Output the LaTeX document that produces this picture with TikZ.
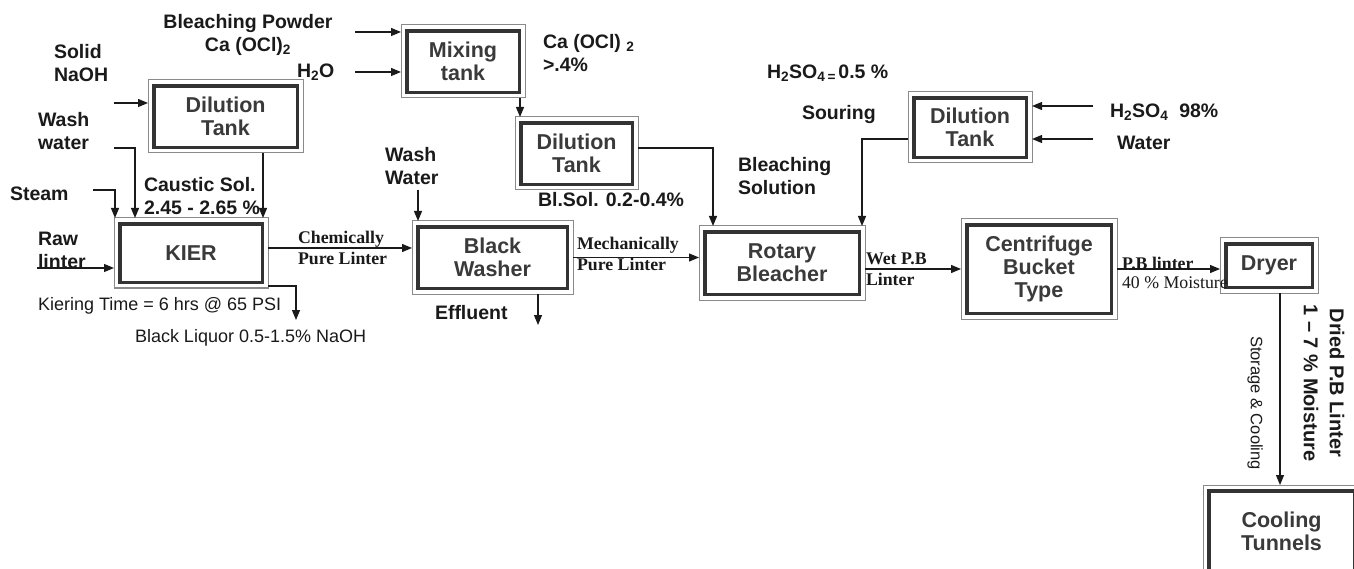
\documentclass[tikz,border=0pt]{standalone}
\usepackage{fontspec}
\setmainfont{Liberation Sans}
\newfontfamily\tnr{Liberation Serif}
\usetikzlibrary{arrows.meta}
\definecolor{boxline}{HTML}{333333}
\definecolor{boxgray}{HTML}{8A8A8A}
\definecolor{boxtext}{HTML}{3A3A3A}
\definecolor{ink}{HTML}{1A1A1A}
\tikzset{
  pbox/.style={draw=boxline, line width=3.2pt, fill=white, outer sep=5.5pt, inner sep=0pt,
    align=center, text=boxtext, font=\fontsize{21.5}{23}\selectfont\bfseries},
  lbl/.style={inner sep=0pt, outer sep=0pt, anchor=north west, align=left, text=ink,
    font=\fontsize{19.5}{23}\selectfont\bfseries},
  lblc/.style={lbl, anchor=north, align=center},
  srf/.style={inner sep=0pt, outer sep=0pt, anchor=north west, align=left, text=ink,
    font=\fontsize{17.8}{21}\selectfont\tnr\bfseries},
  reg/.style={inner sep=0pt, outer sep=0pt, anchor=north west, align=left, text=ink,
    font=\fontsize{18}{21}\selectfont},
  arr/.style={draw=ink, line width=1.2pt, -{Triangle[length=10pt,width=8pt]}},
  outerframe/.style={draw=boxgray, line width=1pt},
  innerframe/.style={draw=boxline, line width=0.9pt}
}
\begin{document}
\begin{tikzpicture}[x=1pt,y=-1pt]
\useasboundingbox (0,0) rectangle (1354,569);
\clip (0,0) rectangle (1354,569);
\fill[white] (0,0) rectangle (1354,569);

% process boxes
\node[pbox, minimum width=144pt, minimum height=62pt] (dil1) at (225.5,116.5) {Dilution\\Tank};
\node[pbox, minimum width=143pt, minimum height=59pt] (kier) at (191,253) {KIER};
\node[pbox, minimum width=113pt, minimum height=62pt] (mix) at (463,61.5) {Mixing\\tank};
\node[pbox, minimum width=112pt, minimum height=62pt] (dil2) at (576.5,153.5) {Dilution\\Tank};
\node[pbox, minimum width=150pt, minimum height=62pt] (washer) at (492.5,257.5) {Black\\Washer};
\node[pbox, minimum width=155pt, minimum height=63pt] (rotary) at (782,263) {Rotary\\Bleacher};
\node[pbox, minimum width=145pt, minimum height=89pt] (centri) at (1039,269) {Centrifuge\\Bucket\\Type};
\node[pbox, minimum width=113pt, minimum height=60pt] (dil3) at (970,127.5) {Dilution\\Tank};
\node[pbox, minimum width=87pt, minimum height=44pt] (dryer) at (1269,265.5) {Dryer};
\node[pbox, minimum width=146pt, minimum height=82pt] (cool) at (1281.5,531.5) {Cooling\\Tunnels};

\foreach \n in {dil1,kier,mix,dil2,washer,rotary,centri,dil3,dryer,cool}{
  \draw[outerframe] (\n.north west) rectangle (\n.south east);
  \draw[innerframe] ([shift={(7pt,-7pt)}]\n.north west) rectangle ([shift={(-7pt,7pt)}]\n.south east);
}

% labels
\node[lblc] (bp) at (248,14) {Bleaching Powder\\Ca (OCl)\textsubscript{2}};
\node[lbl] (h2o) at (297,64) {H\textsubscript{2}O};
\node[lbl] (solid) at (54,44) {Solid\\NaOH};
\node[lbl] (wash1) at (38,112) {Wash\\water};
\node[lbl] (caustic) at (144,177) {Caustic Sol.\\2.45 - 2.65 \%};
\node[lbl] (steam) at (10,187) {Steam};
\node[lbl] (rawl) at (38,232) {Raw\\linter};
\node[reg] (kiering) at (38,297) {Kiering Time = 6 hrs @ 65 PSI};
\node[reg] (bliq) at (135,329) {Black Liquor 0.5-1.5\% NaOH};
\node[srf] (chem) at (298,231) {Chemically\\Pure Linter};
\node[lbl] (wash2) at (385,147) {Wash\\Water};
\node[lbl] (caocl) at (543,34) {Ca (OCl) \textsubscript{2}\\>.4\%};
\node[lbl] (blsol) at (538,192) {Bl.Sol. 0.2-0.4\%};
\node[lbl] (effl) at (435,305) {Effluent};
\node[srf] (mech) at (577,237) {Mechanically\\Pure Linter};
\node[lbl] (h2so4a) at (767,65) {H\textsubscript{2}SO\textsubscript{4}\textsubscript{\,=\,}0.5 \%};
\node[lbl] (souring) at (802,105) {Souring};
\node[lbl] (bsol) at (738,157) {Bleaching\\Solution};
\node[lbl] (h2so4b) at (1110,104) {H\textsubscript{2}SO\textsubscript{4}\ \ 98\%};
\node[lbl] (water) at (1117,136) {Water};
\node[srf] (wet) at (866,253) {Wet P.B\\Linter};
\node[srf, font=\fontsize{17.8}{19}\selectfont\tnr\bfseries] (pbl) at (1122,257) {P.B linter\\{\mdseries 40 \% Moisture}};
\node[rotate=-90, align=center, inner sep=0pt, text=ink, font=\fontsize{20}{26}\selectfont\bfseries] (dried) at (1324,383) {Dried P.B Linter\\1 – 7 \% Moisture};
\node[rotate=-90, inner sep=0pt, text=ink, font=\fontsize{16.5}{20}\selectfont] (stor) at (1255,403) {Storage \& Cooling};

% free ends
\coordinate (bpin) at (355,32);
\coordinate (h2oin) at (355,72);
\coordinate (naohin) at (114,103);
\coordinate (washin) at (114,148);
\coordinate (steamin) at (93,190);
\coordinate (rawin) at (37,268);
\coordinate (blout) at (296,320);
\coordinate (ww2in) at (418,190);
\coordinate (effout) at (538,325);
\coordinate (acidin) at (1093,106);
\coordinate (waterin) at (1093,139);

% connectors
\draw[arr] (bpin) -- (bpin -| mix.west);
\draw[arr] (h2oin) -- (h2oin -| mix.west);
\draw[arr] ([xshift=-5pt]mix.south east) -- ([xshift=-5pt]mix.south east |- dil2.north);
\draw[arr] ([yshift=5.5pt]dil2.east) -| ([xshift=-69pt]rotary.north);
\draw[arr] ([yshift=-11.5pt]dil3.west) -| ([xshift=80pt]rotary.north);
\draw[arr] (acidin) -- (acidin -| dil3.east);
\draw[arr] (waterin) -- (waterin -| dil3.east);
\draw[arr] (naohin) -- (naohin -| dil1.west);
\draw[arr] (washin) -| ([xshift=-56pt]kier.north);
\draw[arr] ([xshift=37.5pt]dil1.south) -- ([xshift=37.5pt]dil1.south |- kier.north);
\draw[arr] (steamin) -| ([xshift=-76pt]kier.north);
\draw[arr] (rawin) -- (rawin -| kier.west);
\draw[arr] ([yshift=5pt]kier.east) -- ([yshift=5pt]kier.east -| washer.west);
\draw[arr] ([yshift=-33pt]kier.east) -| (blout);
\draw[arr] (ww2in) -- (ww2in |- washer.north);
\draw[arr] ([xshift=45.5pt]washer.south) -- (effout);
\draw[arr] (washer.east) -- (washer.east -| rotary.west);
\draw[arr] ([yshift=-6pt]rotary.east) -- ([yshift=-6pt]rotary.east -| centri.west);
\draw[arr] (centri.east) -- (centri.east -| dryer.west);
\draw[arr] ([xshift=11pt]dryer.south) -- ([xshift=11pt]dryer.south |- cool.north);
\end{tikzpicture}
\end{document}
